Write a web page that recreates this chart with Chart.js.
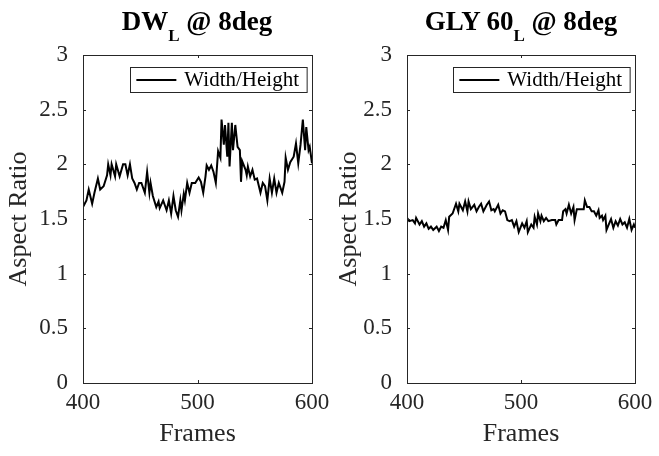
<!DOCTYPE html>
<html>
<head>
<meta charset="utf-8">
<script src="https://cdn.jsdelivr.net/npm/chart.js@4.4.1/dist/chart.umd.min.js"></script>
<style>
    body { margin: 0; background: #fff; width: 659px; height: 456px; overflow: hidden; position: relative; font-family: "Liberation Serif", serif; }
    .panel { position: absolute; top: 0; height: 456px; }
    .title { position: absolute; top: 6px; font-weight: bold; font-size: 27px; color: #000; white-space: nowrap; transform: translateX(-50%); line-height: 30px; }
    .title sub { font-size: 17px; vertical-align: -11px; line-height: 0; }
</style>
</head>
<body>
<div class="panel" style="left:0; width:330px;"><canvas id="leftChart" width="330" height="456"></canvas></div>
<div class="panel" style="left:330px; width:329px;"><canvas id="rightChart" width="329" height="456"></canvas></div>
<div class="title" style="left:197px;">DW<sub>L</sub> @ 8deg</div>
<div class="title" style="left:521px;">GLY 60<sub>L</sub> @ 8deg</div>

<script>
// Frames / aspect ratio (DW)
const dwFrames = [400, 403, 405, 408, 410, 413, 415, 418, 421, 422, 424, 425, 428, 429, 432, 435, 437, 439, 441, 443,
    445, 447, 449, 451, 454, 456, 458, 459, 461, 464, 466, 467, 470, 473, 475, 477, 479, 481, 483, 485,
    486, 488, 489, 491, 493, 495, 498, 501, 503, 505, 507, 508, 510, 512, 514, 516, 518, 520, 521, 523,
    524, 526, 527, 528, 530, 531, 533, 535, 537, 538, 539, 542, 543, 544, 546, 548, 550, 552, 555, 557,
    559, 561, 563, 565, 567, 569, 571, 574, 576, 577, 579, 581, 584, 586, 588, 590, 592, 594, 595, 597,
    598, 600];
const dwRatio = [1.61, 1.67, 1.77, 1.64, 1.74, 1.87, 1.77, 1.80, 1.90, 2.00, 1.90, 2.00, 1.89, 2.00, 1.89, 2.00, 2.00, 1.90, 2.00, 1.87,
    1.83, 1.77, 1.83, 1.83, 1.74, 1.93, 1.74, 1.83, 1.71, 1.61, 1.66, 1.60, 1.67, 1.58, 1.67, 1.55, 1.71, 1.58, 1.52, 1.67,
    1.58, 1.73, 1.67, 1.83, 1.74, 1.83, 1.83, 1.88, 1.84, 1.74, 1.89, 1.99, 1.95, 1.99, 1.93, 1.83, 2.12, 2.06, 2.41, 2.18,
    2.36, 2.07, 2.38, 1.98, 2.38, 2.13, 2.36, 2.16, 2.13, 1.84, 2.03, 1.95, 1.90, 1.98, 1.89, 1.95, 1.86, 1.87, 1.74, 1.83,
    1.80, 1.67, 1.87, 1.74, 1.87, 1.74, 1.83, 1.74, 1.84, 2.06, 1.95, 2.02, 2.07, 2.19, 2.01, 2.18, 2.41, 2.13, 2.34, 2.13,
    2.16, 2.01];

// Right panel (GLY 60)
const glyFrames = [400, 402, 405, 407, 408, 411, 413, 415, 417, 419, 421, 423, 426, 428, 430, 432, 434, 436, 437, 440,
    442, 443, 445, 446, 449, 451, 453, 454, 456, 459, 461, 463, 465, 467, 470, 472, 474, 476, 477, 480,
    482, 484, 486, 488, 490, 492, 494, 496, 498, 501, 503, 505, 506, 509, 511, 512, 514, 515, 517, 518,
    520, 522, 524, 527, 530, 531, 533, 536, 537, 539, 540, 542, 544, 546, 547, 549, 552, 555, 556, 558,
    560, 562, 564, 566, 568, 569, 571, 572, 574, 575, 577, 579, 581, 583, 585, 587, 589, 591, 593, 595,
    597, 599, 600];
const glyRatio = [1.51, 1.48, 1.49, 1.46, 1.51, 1.45, 1.48, 1.43, 1.46, 1.41, 1.43, 1.40, 1.43, 1.39, 1.43, 1.42, 1.49, 1.40, 1.52, 1.55,
    1.61, 1.64, 1.57, 1.64, 1.58, 1.66, 1.57, 1.66, 1.59, 1.63, 1.57, 1.61, 1.64, 1.57, 1.63, 1.66, 1.58, 1.59, 1.57, 1.63,
    1.55, 1.58, 1.57, 1.49, 1.48, 1.49, 1.43, 1.48, 1.38, 1.46, 1.42, 1.48, 1.38, 1.45, 1.42, 1.52, 1.45, 1.55, 1.48, 1.53,
    1.48, 1.51, 1.48, 1.49, 1.49, 1.45, 1.49, 1.49, 1.57, 1.59, 1.55, 1.63, 1.55, 1.61, 1.49, 1.59, 1.59, 1.59, 1.67, 1.61,
    1.61, 1.57, 1.57, 1.53, 1.58, 1.51, 1.53, 1.49, 1.53, 1.40, 1.45, 1.50, 1.42, 1.48, 1.44, 1.50, 1.45, 1.47, 1.42, 1.50,
    1.40, 1.45, 1.42];

const xTicks = [400, 500, 600];
const yTicks = [0, 0.5, 1, 1.5, 2, 2.5, 3];
const seriesLabel = 'Width/Height';

const axisColor = '#262626';
const serif = '"Liberation Serif", "Times New Roman", serif';

// box around the plot area, inward ticks, and the in-plot legend
const matlabAxes = {
    id: 'matlabAxes',
    afterDraw(chart) {
        const { ctx, chartArea: a, scales } = chart;
        ctx.save();
        ctx.strokeStyle = axisColor;
        ctx.lineWidth = 1;
        ctx.strokeRect(a.left + 0.5, a.top + 0.5, a.right - a.left, a.bottom - a.top);
        ctx.beginPath();
        xTicks.forEach(v => {
            const px = Math.round(scales.x.getPixelForValue(v)) + 0.5;
            ctx.moveTo(px, a.bottom); ctx.lineTo(px, a.bottom - 3);
            ctx.moveTo(px, a.top); ctx.lineTo(px, a.top + 3);
        });
        yTicks.forEach(v => {
            const py = Math.round(scales.y.getPixelForValue(v)) + 0.5;
            ctx.moveTo(a.left, py); ctx.lineTo(a.left + 3, py);
            ctx.moveTo(a.right, py); ctx.lineTo(a.right - 3, py);
        });
        ctx.stroke();

        // legend
        ctx.font = '21px ' + serif;
        const tw = ctx.measureText(seriesLabel).width;
        const w = 62 + tw, h = 25;
        const lx = a.right - 5 - w, ly = a.top + 12;
        ctx.fillStyle = '#fff';
        ctx.fillRect(lx, ly, w, h);
        ctx.strokeStyle = axisColor;
        ctx.strokeRect(Math.round(lx) + 0.5, ly + 0.5, w, h);
        ctx.strokeStyle = '#000';
        ctx.lineWidth = 2;
        ctx.beginPath();
        ctx.moveTo(lx + 6, ly + h / 2 + 0.5);
        ctx.lineTo(lx + 46, ly + h / 2 + 0.5);
        ctx.stroke();
        ctx.fillStyle = '#000';
        ctx.textBaseline = 'middle';
        ctx.fillText(seriesLabel, lx + 54, ly + h / 2 + 1);
        ctx.restore();
    }
};

function makeChart(id, frames, ratio, yWidth, padRight) {
    const points = frames.map((f, i) => ({ x: f, y: ratio[i] }));
    return new Chart(document.getElementById(id), {
        type: 'line',
        data: {
            datasets: [{
                label: seriesLabel,
                data: points,
                borderColor: '#000',
                borderWidth: 2,
                pointRadius: 0,
                tension: 0,
                fill: false
            }]
        },
        options: {
            responsive: false,
            animation: false,
            layout: { padding: { top: 55, right: padRight, left: 0, bottom: 0 } },
            plugins: { legend: { display: false }, tooltip: { enabled: false } },
            scales: {
                x: {
                    type: 'linear', min: 400, max: 600,
                    afterBuildTicks: s => { s.ticks = xTicks.map(v => ({ value: v })); },
                    afterFit: s => { s.height = 73; },
                    grid: { display: false },
                    border: { display: false },
                    ticks: { color: axisColor, font: { family: serif, size: 23 }, padding: -2, maxRotation: 0 },
                    title: { display: true, text: 'Frames', color: axisColor, font: { family: serif, size: 26 }, padding: { top: 0, bottom: 6 } }
                },
                y: {
                    min: 0, max: 3,
                    afterBuildTicks: s => { s.ticks = yTicks.map(v => ({ value: v })); },
                    afterFit: s => { s.width = yWidth; },
                    grid: { display: false },
                    border: { display: false },
                    ticks: { color: axisColor, font: { family: serif, size: 23 }, padding: 7, callback: v => String(v) },
                    title: { display: true, text: 'Aspect Ratio', color: axisColor, font: { family: serif, size: 26 }, padding: { bottom: 2 } }
                }
            }
        },
        plugins: [matlabAxes]
    });
}

makeChart('leftChart', dwFrames, dwRatio, 83, 18);
makeChart('rightChart', glyFrames, glyRatio, 77, 24);
</script>
</body>
</html>
